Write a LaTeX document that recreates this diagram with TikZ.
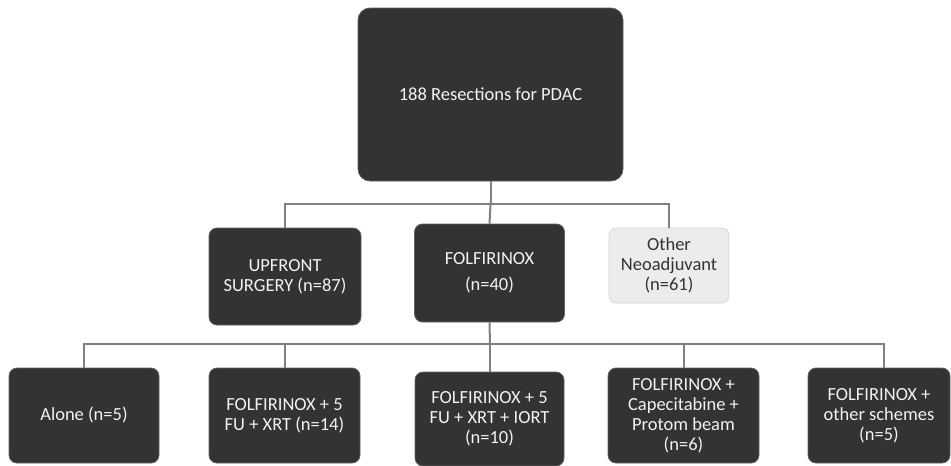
\documentclass[tikz,border=0pt]{standalone}
\usepackage{fontspec}
\setmainfont{Carlito}
\definecolor{boxdark}{HTML}{333333}
\definecolor{boxlight}{HTML}{ECECEC}
\definecolor{linegray}{HTML}{808080}
\definecolor{textlight}{HTML}{F2F2F2}
\begin{document}
\begin{tikzpicture}[x=1pt,y=-1pt,
  darkbox/.style={draw=linegray!60!boxdark,line width=0.8pt,fill=boxdark,rounded corners=8pt,
    text=textlight,align=center,inner sep=0pt,
    font=\fontsize{18.5}{20}\selectfont},
  lightbox/.style={draw=boxlight!90!black,line width=0.6pt,fill=boxlight,rounded corners=7pt,
    text=boxdark,align=center,inner sep=0pt,
    font=\fontsize{18.5}{20}\selectfont},
  conn/.style={draw=linegray,line width=2pt}]
\useasboundingbox[fill=white] (0,0) rectangle (951,466);
% top
\node[darkbox,rounded corners=12pt,minimum width=265pt,minimum height=173pt] (top) at (490.5,94.5) {188 Resections for PDAC};
% middle row
\node[darkbox,minimum width=152pt,minimum height=97pt] (up) at (285,276.5) {UPFRONT\\SURGERY (n=87)};
\node[darkbox,minimum width=150pt,minimum height=98pt] (ff) at (489.5,273) {FOLFIRINOX\\[6pt](n=40)};
\node[lightbox,minimum width=120pt,minimum height=75pt] (oth) at (669,265.5) {Other\\Neoadjuvant\\(n=61)};
% bottom row
\node[darkbox,minimum width=150pt,minimum height=95pt] (b1) at (84,415.5) {Alone (n=5)};
\node[darkbox,minimum width=151pt,minimum height=95pt] (b2) at (284.5,415.5) {FOLFIRINOX + 5\\FU + XRT (n=14)};
\node[darkbox,minimum width=149pt,minimum height=94pt] (b3) at (489.5,419) {FOLFIRINOX + 5\\FU + XRT + IORT\\(n=10)};
\node[darkbox,minimum width=151pt,minimum height=95pt] (b4) at (683.5,415.5) {FOLFIRINOX +\\Capecitabine +\\Protom beam\\(n=6)};
\node[darkbox,minimum width=142pt,minimum height=95pt] (b5) at (879,415.5) {FOLFIRINOX +\\other schemes\\(n=5)};
% connectors
\coordinate (bus1) at (490.5,204);
\coordinate (bus2) at (490,344);
\draw[conn] (top.south) -- (bus1);
\draw[conn] (up.north) |- (bus1) -| (oth.north);
\draw[conn] (bus1) -- (ff.north);
\draw[conn] (ff.south) -- (bus2);
\draw[conn] (b1.north) |- (bus2) -| ([xshift=5pt]b5.north);
\draw[conn] (b2.north) -- (b2.north |- bus2);
\draw[conn] (b3.north) -- (b3.north |- bus2);
\draw[conn] (b4.north) -- (b4.north |- bus2);
\end{tikzpicture}
\end{document}
